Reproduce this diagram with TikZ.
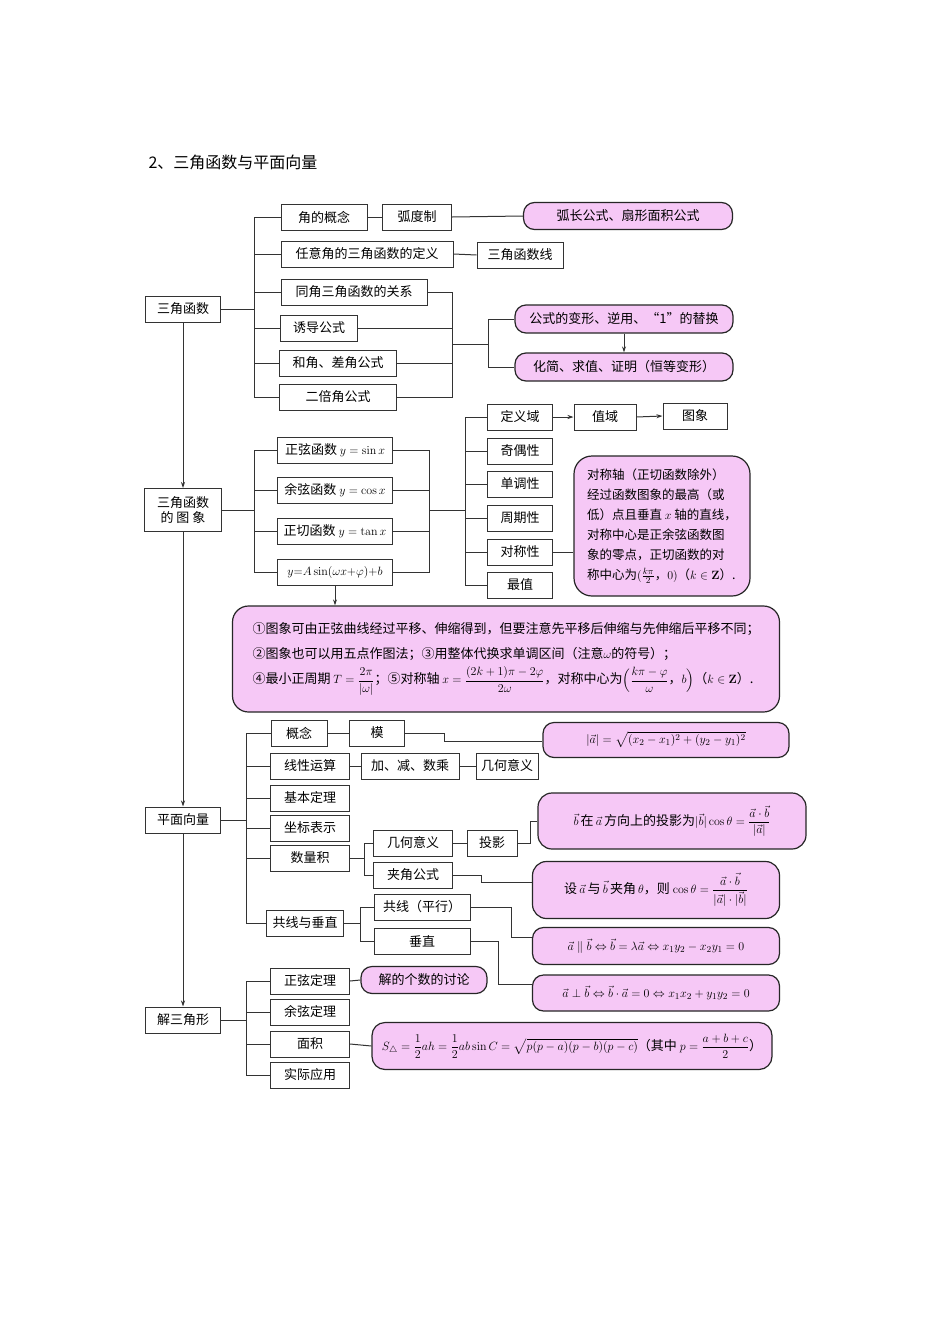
\documentclass[tikz,border=0pt]{standalone}
\usepackage{amsmath,amssymb}
\usepackage[no-math]{fontspec}
\setmainfont{Noto Sans CJK SC}
\usetikzlibrary{arrows.meta}
\definecolor{pk}{HTML}{F6C8F6}
\begin{document}
\begin{tikzpicture}[x=1pt,y=-1pt,
  every node/.style={font=\fontsize{13}{15}\selectfont},
  bx/.style={draw=black!80,line width=1pt,fill=white,minimum height=26pt,inner sep=2pt,minimum width=#1},
  bx/.default=78pt,
  pb/.style={draw=black!85,line width=1.2pt,fill=pk,rounded corners=11pt,inner sep=3pt,minimum width=#1},
  ln/.style={draw=black!80,line width=1pt},
  ar/.style={ln,-{Stealth[length=6pt,width=4pt]}}]
\fill[white] (0,0) rectangle (950,1344);
\node[anchor=west,font=\fontsize{16}{18}\selectfont] (title) at (145,162) {2、三角函数与平面向量};
% ---------- section 1
\node[bx=75pt] (s1) at (183,309) {三角函数};
\node[bx=86pt] (a1) at (324,217) {角的概念};
\node[bx=69pt] (a1b) at (417,217) {弧度制};
\node[pb=209pt,minimum height=27pt] (a1c) at (628,216) {弧长公式、扇形面积公式};
\node[bx=172pt] (a2) at (367,254) {任意角的三角函数的定义};
\node[bx=86pt] (a2b) at (520,255) {三角函数线};
\node[bx=146pt] (a3) at (354,292) {同角三角函数的关系};
\node[bx=77pt] (a4) at (319,328) {诱导公式};
\node[bx=117pt] (a5) at (338,363) {和角、差角公式};
\node[bx=117pt] (a6) at (338,397) {二倍角公式};
\node[pb=218pt,minimum height=28pt] (f1) at (624,319) {公式的变形、逆用、“1”的替换};
\node[pb=218pt,minimum height=28pt] (f2) at (624,367) {化简、求值、证明（恒等变形）};
\draw[ln] (s1.east) -- (254,309);
\draw[ln] (a1.west) -- (254,217) -- (254,397) -- (a6.west);
\foreach \n in {a2,a3,a4,a5} \draw[ln] (\n.west) -- (\n.west -| 254,0);
\draw[ln] (a1.east) -- (a1b.west);
\draw[ln] (a1b.east) -- (a1c.west);
\draw[ln] (a2.east) -- (a2b.west);
\draw[ln] (a3.east) -- (452,292) -- (452,397) -- (a6.east);
\foreach \n in {a4,a5} \draw[ln] (\n.east) -- (\n.east -| 452,0);
\draw[ln] (452,344) -- (488,344);
\draw[ln] (f1.west) -- (488,319) -- (488,367) -- (f2.west);
\draw[ar] (f1.south) -- (f2.north);
% ---------- section 2
\node[bx=77pt,minimum height=43pt,align=center,inner sep=1pt] (s2) at (183,510) {三角函数\\的\ 图\ 象};
\draw[ar] (s1.south) -- (s2.north);
\node[bx=115pt] (b1) at (335,450) {正弦函数 $y=\sin x$};
\node[bx=115pt] (b2) at (335,490) {余弦函数 $y=\cos x$};
\node[bx=115pt] (b3) at (335,531) {正切函数 $y=\tan x$};
\node[bx=115pt,font=\fontsize{12}{14}\selectfont] (b4) at (335,572) {$y{=}A\sin(\omega x{+}\varphi){+}b$};
\draw[ln] (s2.east) -- (254,510);
\draw[ln] (b1.west) -- (254,450) -- (254,572) -- (b4.west);
\foreach \n in {b2,b3} \draw[ln] (\n.west) -- (\n.west -| 254,0);
\draw[ln] (b1.east) -- (429,450) -- (429,572) -- (b4.east);
\foreach \n in {b2,b3} \draw[ln] (\n.east) -- (\n.east -| 429,0);
\draw[ln] (429,510) -- (465,510);
\node[bx=65pt] (c1) at (520,417) {定义域};
\node[bx=65pt] (c2) at (520,451) {奇偶性};
\node[bx=65pt] (c3) at (520,484) {单调性};
\node[bx=65pt] (c4) at (520,518) {周期性};
\node[bx=65pt] (c5) at (520,552) {对称性};
\node[bx=65pt] (c6) at (520,585) {最值};
\draw[ln] (c1.west) -- (465,417) -- (465,585) -- (c6.west);
\foreach \n in {c2,c3,c4,c5} \draw[ln] (\n.west) -- (\n.west -| 465,0);
\node[bx=62pt] (c1b) at (605,417) {值域};
\node[bx=64pt] (c1c) at (695,416) {图象};
\draw[ar] (c1.east) -- (c1b.west);
\draw[ar] (c1b.east) -- (c1c.west);
\node[pb=176pt,minimum height=140pt,rounded corners=18pt,align=left,font=\fontsize{12.5}{20}\selectfont] (sym) at (662,526)
 {对称轴（正切函数除外）\\经过函数图象的最高（或\\低）点且垂直 $x$ 轴的直线，\\对称中心是正余弦函数图\\象的零点，正切函数的对\\称中心为$(\frac{k\pi}{2}$，$0)$（$k\in\mathbf{Z}$）.};
\draw[ln] (c5.east) -- (c5.east -| sym.west);
\node[pb=547pt,minimum height=106pt,rounded corners=16pt,align=left,font=\fontsize{13}{25}\selectfont] (big) at (506,659)
 {①图象可由正弦曲线经过平移、伸缩得到，但要注意先平移后伸缩与先伸缩后平移不同；\\
  ②图象也可以用五点作图法；③用整体代换求单调区间（注意$\omega$的符号）；\\
  ④最小正周期 $T=\dfrac{2\pi}{|\omega|}$；⑤对称轴 $x=\dfrac{(2k+1)\pi-2\varphi}{2\omega}$，对称中心为$\Bigl(\dfrac{k\pi-\varphi}{\omega}$，$b\Bigr)$（$k\in\mathbf{Z}$）.};
\draw[ar] (b4.south) -- (b4.south |- big.north);
% ---------- section 3
\node[bx=75pt] (s3) at (183,820) {平面向量};
\draw[ar] (s2.south) -- (s3.north);
\node[bx=56pt] (d1) at (299,733) {概念};
\node[bx=55pt] (d1b) at (377,733) {模};
\node[pb=246pt,minimum height=35pt] (d1c) at (666,740) {$|\vec a|=\sqrt{(x_2-x_1)^2+(y_2-y_1)^2}$};
\node[bx=79pt] (d2) at (310,766) {线性运算};
\node[bx=98pt] (d2b) at (410,766) {加、减、数乘};
\node[bx=62pt] (d2c) at (507,766) {几何意义};
\node[bx=79pt] (d3) at (310,798) {基本定理};
\node[bx=79pt] (d4) at (310,828) {坐标表示};
\node[bx=79pt] (d5) at (310,858) {数量积};
\node[bx=77pt] (d6) at (305,923) {共线与垂直};
\draw[ln] (s3.east) -- (246,820);
\draw[ln] (d1.west) -- (246,733) -- (246,923) -- (d6.west);
\foreach \n in {d2,d3,d4,d5} \draw[ln] (\n.west) -- (\n.west -| 246,0);
\draw[ln] (d1.east) -- (d1b.west);
\draw[ln] (d1b.east) -- (444,733) -- (444,741) -- (d1c.west |- 0,741);
\draw[ln] (d2.east) -- (d2b.west);
\draw[ln] (d2b.east) -- (d2c.west);
\node[bx=79pt] (e1) at (413,843) {几何意义};
\node[bx=50pt] (e1b) at (492,843) {投影};
\node[bx=79pt] (e2) at (413,875) {夹角公式};
\draw[ln] (d5.east) -- (364,858);
\draw[ln] (e1.west) -- (364,843) -- (364,875) -- (e2.west);
\draw[ln] (e1.east) -- (e1b.west);
\node[pb=268pt,minimum height=56pt,rounded corners=14pt] (p1) at (672,821) {$\vec b$\,在\,$\vec a$\,方向上的投影为$|\vec b|\cos\theta=\dfrac{\vec a\cdot\vec b}{|\vec a|}$};
\draw[ln] (e1b.east) -- (530,843) -- (530,821) -- (p1.west);
\node[pb=247pt,minimum height=57pt,rounded corners=14pt] (p2) at (656,890) {设\,$\vec a$\,与\,$\vec b$\,夹角\,$\theta$，则 $\cos\theta=\dfrac{\vec a\cdot\vec b}{|\vec a|\cdot|\vec b|}$};
\draw[ln] (e2.east) -- (481,875) -- (481,882) -- (p2.west |- 0,882);
\node[bx=96pt] (g1) at (422,907) {共线（平行）};
\node[bx=96pt] (g2) at (422,941) {垂直};
\draw[ln] (d6.east) -- (360,923);
\draw[ln] (g1.west) -- (360,907) -- (360,941) -- (g2.west);
\node[pb=247pt,minimum height=37pt] (p3) at (656,946) {$\vec a\parallel\vec b\Leftrightarrow\vec b=\lambda\vec a\Leftrightarrow x_1y_2-x_2y_1=0$};
\node[pb=247pt,minimum height=36pt] (p4) at (656,993) {$\vec a\perp\vec b\Leftrightarrow\vec b\cdot\vec a=0\Leftrightarrow x_1x_2+y_1y_2=0$};
\draw[ln] (g1.east) -- (511,907) -- (511,937) -- (p3.west |- 0,937);
\draw[ln] (g2.east) -- (498,941) -- (498,984) -- (p4.west |- 0,984);
% ---------- section 4
\node[bx=75pt] (s4) at (183,1020) {解三角形};
\draw[ar] (s3.south) -- (s4.north);
\node[bx=79pt] (h1) at (310,981) {正弦定理};
\node[bx=79pt] (h2) at (310,1012) {余弦定理};
\node[bx=79pt] (h3) at (310,1044) {面积};
\node[bx=79pt] (h4) at (310,1075) {实际应用};
\draw[ln] (s4.east) -- (246,1020);
\draw[ln] (h1.west) -- (246,981) -- (246,1075) -- (h4.west);
\foreach \n in {h2,h3} \draw[ln] (\n.west) -- (\n.west -| 246,0);
\node[pb=126pt,minimum height=27pt] (h1b) at (424,980) {解的个数的讨论};
\draw[ln] (h1.east) -- (h1b.west);
\node[pb=400pt,minimum height=47pt,rounded corners=13pt] (h3b) at (572,1046) {$S_\triangle=\dfrac12ah=\dfrac12ab\sin C=\sqrt{p(p-a)(p-b)(p-c)}$（其中 $p=\dfrac{a+b+c}{2}$）};
\draw[ln] (h3.east) -- (h3b.west);
\end{tikzpicture}
\end{document}
